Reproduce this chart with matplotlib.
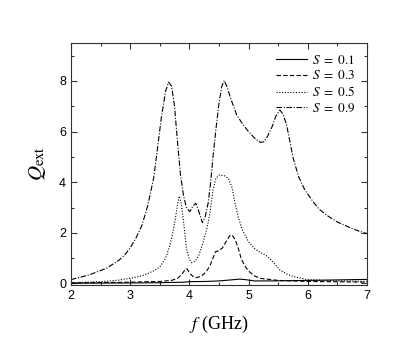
import matplotlib.pyplot as plt
from matplotlib.ticker import MultipleLocator

# values
f_01 = [2.0, 3.0, 3.5, 3.9, 4.0, 4.3, 4.5, 4.7, 4.85, 4.95, 5.1, 5.4, 6.0, 6.5, 7.0]
q_01 = [0.01, 0.02, 0.03, 0.05, 0.07, 0.08, 0.1, 0.14, 0.17, 0.15, 0.1, 0.1, 0.12, 0.14, 0.16]

f_03 = [2.0, 3.0, 3.5, 3.7, 3.8, 3.87, 3.93, 3.96, 4.0, 4.06, 4.12, 4.2, 4.28, 4.35,
        4.4, 4.44, 4.5, 4.56, 4.62, 4.68, 4.72, 4.77, 4.82, 4.88, 4.95, 5.02, 5.1,
        5.2, 5.5, 6.0, 7.0]
q_03 = [0.02, 0.05, 0.08, 0.12, 0.2, 0.35, 0.55, 0.58, 0.42, 0.28, 0.23, 0.28, 0.45,
        0.7, 1.0, 1.25, 1.3, 1.4, 1.65, 1.88, 1.92, 1.75, 1.45, 0.95, 0.65, 0.45, 0.3,
        0.2, 0.12, 0.08, 0.05]

f_05 = [2.0, 2.5, 2.8, 3.0, 3.2, 3.4, 3.5, 3.6, 3.67, 3.72, 3.76, 3.8, 3.83, 3.86,
        3.9, 3.95, 4.0, 4.04, 4.1, 4.16, 4.23, 4.3, 4.35, 4.4, 4.45, 4.5, 4.6, 4.66,
        4.72, 4.77, 4.83, 4.9, 5.0, 5.1, 5.2, 5.3, 5.36, 5.45, 5.53, 5.65, 5.76,
        6.0, 6.5, 7.0]
q_05 = [0.03, 0.07, 0.13, 0.2, 0.3, 0.5, 0.65, 1.0, 1.5, 2.0, 2.5, 3.1, 3.45, 3.2,
        2.5, 1.4, 0.95, 0.82, 0.88, 1.1, 1.6, 2.2, 2.8, 3.7, 4.15, 4.28, 4.25, 4.15,
        3.8, 3.2, 2.6, 2.1, 1.65, 1.38, 1.22, 1.1, 0.98, 0.75, 0.53, 0.37, 0.27,
        0.15, 0.1, 0.08]

f_09 = [2.0, 2.3, 2.6, 2.8, 2.9, 3.0, 3.1, 3.2, 3.3, 3.4, 3.46, 3.53, 3.6, 3.65,
        3.7, 3.75, 3.8, 3.85, 3.9, 3.95, 4.01, 4.06, 4.11, 4.16, 4.22, 4.27, 4.32,
        4.36, 4.4, 4.45, 4.5, 4.55, 4.59, 4.64, 4.7, 4.8, 4.9, 5.0, 5.1, 5.2, 5.26,
        5.32, 5.4, 5.46, 5.53, 5.58, 5.64, 5.7, 5.76, 5.85, 5.95, 6.1, 6.2, 6.35,
        6.5, 6.7, 6.85, 7.0]
q_09 = [0.15, 0.33, 0.6, 0.9, 1.1, 1.4, 1.8, 2.3, 3.1, 4.2, 5.3, 6.6, 7.6, 7.95,
        7.8, 7.0, 5.6, 4.3, 3.5, 3.0, 2.84, 3.05, 3.17, 2.85, 2.4, 2.65, 3.2,
        4.0, 5.0, 6.1, 7.1, 7.8, 8.02, 7.75, 7.3, 6.66, 6.3, 6.0, 5.75, 5.57, 5.6,
        5.8, 6.2, 6.6, 6.85, 6.7, 6.3, 5.6, 4.9, 4.2, 3.7, 3.2, 2.92, 2.65,
        2.43, 2.22, 2.08, 1.97]

labels = [r"$S\ =\ 0.1$", r"$S\ =\ 0.3$", r"$S\ =\ 0.5$", r"$S\ =\ 0.9$"]

plt.rcParams['font.family'] = 'Liberation Sans'
plt.rcParams['mathtext.fontset'] = 'stix'

fig = plt.figure(figsize=(4.15, 3.58), dpi=100)
ax = fig.add_axes([0.171, 0.204, 0.713, 0.676])

lw = 0.8
ax.plot(f_01, q_01, color='black', lw=lw, ls='-', label=labels[0])
ax.plot(f_03, q_03, color='black', lw=lw, ls=(0, (4, 2)), label=labels[1])
ax.plot(f_05, q_05, color='black', lw=lw, ls=(0, (1, 1.5)), label=labels[2])
ax.plot(f_09, q_09, color='black', lw=lw, ls=(0, (5, 1.5, 1, 1.5)), label=labels[3])

ax.set_xlim(2, 7)
ax.set_ylim(-0.06, 9.5)
ax.xaxis.set_major_locator(MultipleLocator(1))
ax.xaxis.set_minor_locator(MultipleLocator(0.5))
ax.yaxis.set_major_locator(MultipleLocator(2))
ax.yaxis.set_minor_locator(MultipleLocator(1))
ax.tick_params(which='both', direction='in', top=True, right=True, labelsize=9,
               color='#333333', width=0.8)
ax.tick_params(which='major', length=4)
ax.tick_params(which='minor', length=2.5)
for s in ax.spines.values():
    s.set_color('#333333')
    s.set_linewidth(0.8)

ax.set_xlabel("$f$ (GHz)", family='Liberation Serif', fontsize=13, labelpad=9)
ax.set_ylabel(r"$Q_{\rm ext}$", family='Liberation Serif', fontsize=15, labelpad=8)

leg = ax.legend(loc='upper right', frameon=False, handlelength=2.4,
                prop={'family': 'Liberation Serif', 'size': 9.5},
                labelspacing=0.22, borderaxespad=0.4, handletextpad=0.4)

plt.savefig("out.png")
